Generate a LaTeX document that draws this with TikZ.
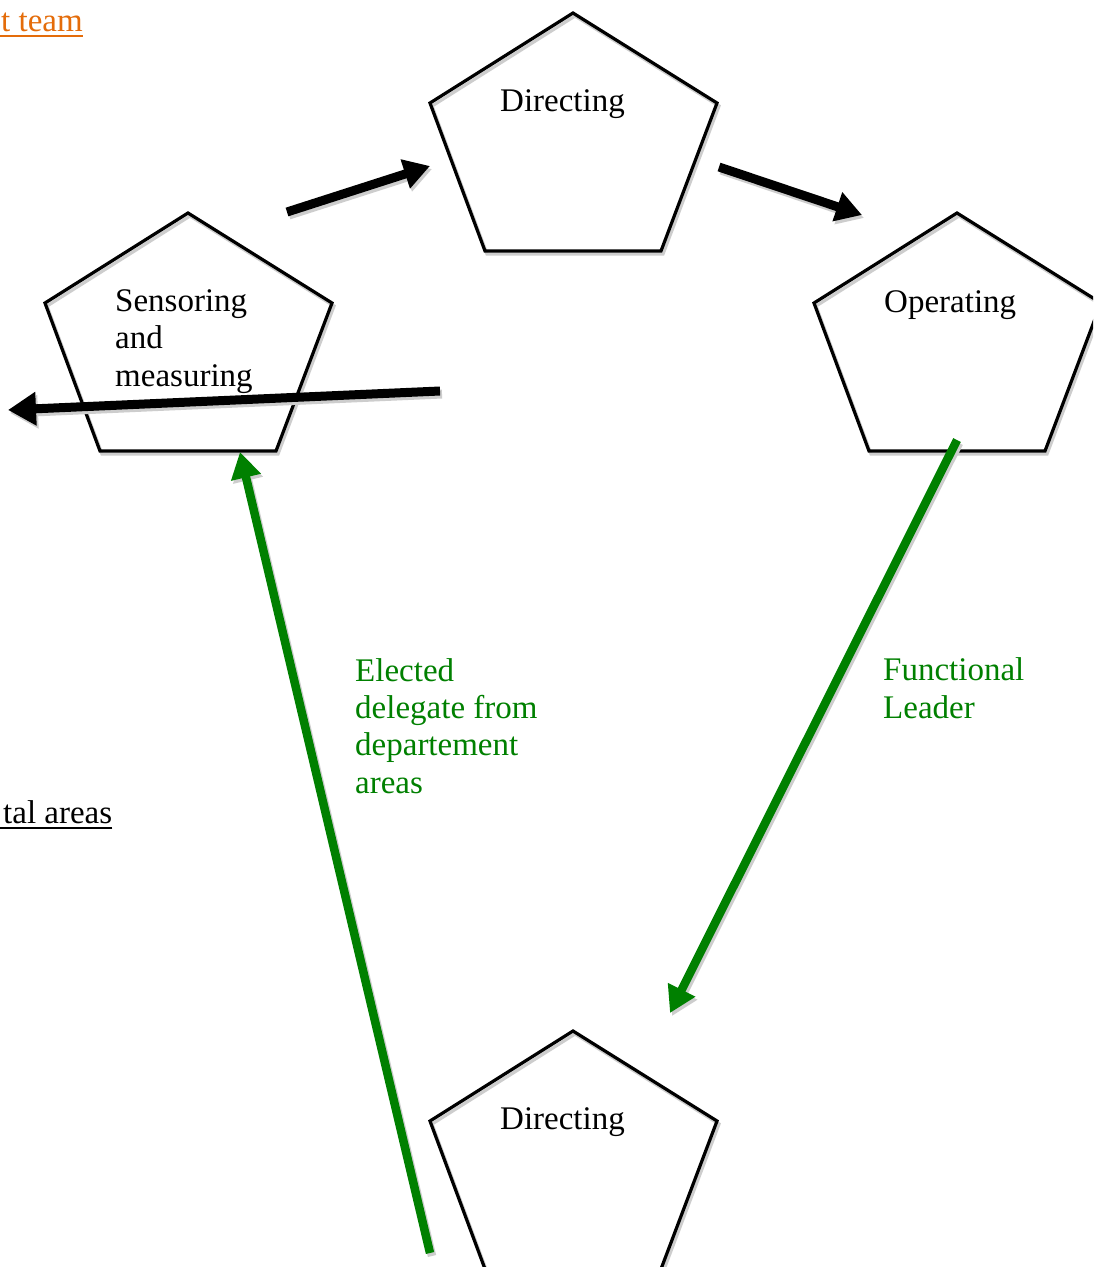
\documentclass[tikz,border=0pt]{standalone}
\usepackage{fontspec}
\setmainfont{Liberation Serif}
\usetikzlibrary{arrows.meta}
\definecolor{dkgreen}{RGB}{0,128,0}
\definecolor{shadowgray}{RGB}{205,205,205}
\definecolor{linkorange}{RGB}{228,108,10}
\begin{document}
\begin{tikzpicture}[x=1pt,y=-1pt,
  pentline/.style={line width=3.2pt, line join=miter},
  pentagon/.pic={
    \draw[pentline, shadowgray, shift={(2,3)}] (0,0)--(144,90)--(88,238)--(-88,238)--(-143,90)--cycle;
    \draw[pentline, black] (0,0)--(144,90)--(88,238)--(-88,238)--(-143,90)--cycle;
  },
  txt/.style={inner sep=0pt, anchor=base west, align=left, font=\fontsize{33}{37.3}\selectfont},
  blackarrow/.style={line width=9pt, -{Triangle[width=29pt,length=26pt]}},
  bigarrow/.style={line width=9pt, -{Triangle[width=32pt,length=28pt]}},
  greenarrow/.style={line width=8.5pt, -{Triangle[width=29pt,length=26pt]}},
  shadowed/.style={shadowgray, transform canvas={shift={(2pt,-3pt)}}},
  uline/.style={line width=2.5pt}
]
\useasboundingbox (0,0) rectangle (1093,1267);
\clip (0,0) rectangle (1093,1267);
\fill[white] (0,0) rectangle (1093,1267);

% pentagons
\pic (ptop) at (573,13) {pentagon};
\pic (pleft) at (188,213) {pentagon};
\pic (pright) at (957,213) {pentagon};
\pic (pbot) at (573,1031) {pentagon};

% texts
\node[txt] (dir1) at (500,111) {Directing};
\node[txt] (sens) at (115,386) {Sensoring\\and\\measuring};
\node[txt] (oper) at (884,312) {Operating};
\node[txt] (dir2) at (500,1129) {Directing};
\node[txt, text=dkgreen] (elect) at (355,793) {Elected\\delegate from\\departement\\areas};
\node[txt, text=dkgreen] (func) at (883,718) {Functional\\Leader};
\node[txt, text=linkorange] (team) at (1,31) {t team};
\node[txt] (areas) at (3,823) {tal areas};
\draw[uline, linkorange] ([yshift=-5pt]team.base east) -- ++(-90,0) coordinate (teamend);
\draw[uline, black] ([yshift=-5pt]areas.base east) -- ++(-120,0) coordinate (areasend);

% arrow end points
\coordinate (a1s) at (287,212);
\coordinate (a1e) at (430,166);
\coordinate (a2s) at (719,167);
\coordinate (a2e) at (862,215);
\coordinate (a3s) at (440,391);
\coordinate (a3e) at (8,410);
\coordinate (g1s) at (957,440);
\coordinate (g1e) at (670,1013);
\coordinate (g2s) at (430,1253);
\coordinate (g2e) at (240,452);

% shadows
\draw[blackarrow, shadowed] (a1s) -- (a1e);
\draw[blackarrow, shadowed] (a2s) -- (a2e);
\draw[bigarrow, shadowed] (a3s) -- (a3e);
\draw[greenarrow, shadowed] (g1s) -- (g1e);
\draw[greenarrow, shadowed] (g2s) -- (g2e);

% arrows
\draw[blackarrow, black] (a1s) -- (a1e);
\draw[blackarrow, black] (a2s) -- (a2e);
\draw[bigarrow, black] (a3s) -- (a3e);
\draw[greenarrow, dkgreen] (g1s) -- (g1e);
\draw[greenarrow, dkgreen] (g2s) -- (g2e);
\end{tikzpicture}
\end{document}
